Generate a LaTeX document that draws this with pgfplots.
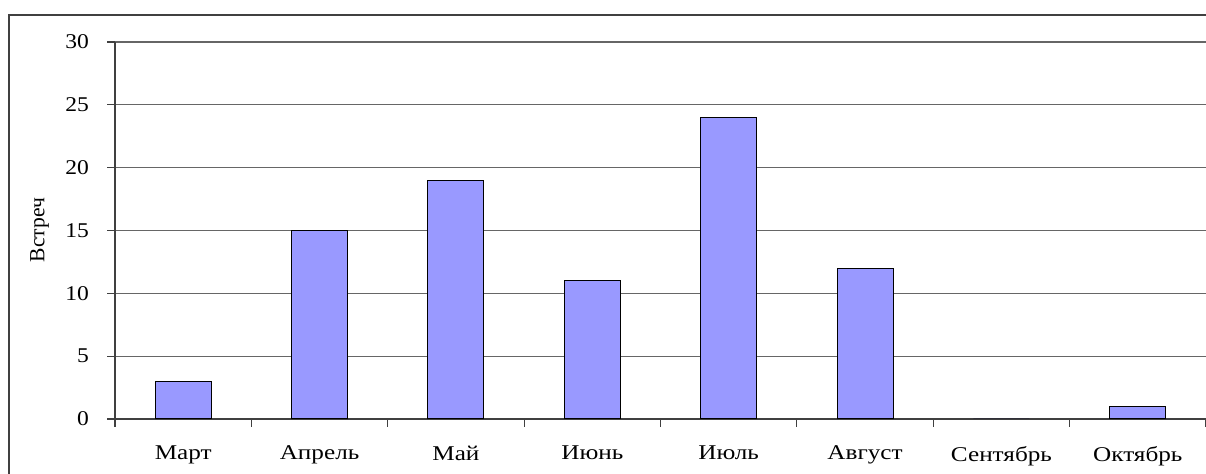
\documentclass[border=0pt]{standalone}
\usepackage{fontspec}
\setmainfont{Liberation Serif}
\usepackage{pgfplots}
\pgfplotsset{compat=1.18}
\definecolor{barblue}{HTML}{9999FF}
\begin{document}
\begin{tikzpicture}
\useasboundingbox (0pt,0pt) rectangle (603pt,237pt);
\draw[line width=1pt, black!75] (4.25pt,0pt) -- (4.25pt,229.5pt) -- (603pt,229.5pt);
\begin{axis}[
  at={(57.5pt,27.5pt)}, anchor=origin,
  scale only axis, width=545.5pt, height=188.5pt,
  xmin=0, xmax=8, ymin=0, ymax=30,
  ytick={0,5,...,30},
  xtick={0.5,1.5,...,7.5},
  xticklabels={Март, Апрель, Май, Июнь, Июль, Август, Сентябрь, Октябрь},
  major x tick style={draw=none},
  extra x ticks={0,1,...,8},
  extra x tick labels={},
  extra x tick style={grid=none, major x tick style={draw=black!75}},
  axis lines*=left,
  axis line style={black!75, line width=0.6pt},
  tick align=outside, major tick length=4pt,
  tick style={black!75, line width=0.6pt},
  ymajorgrids, grid style={black!60, line width=0.6pt},
  /pgf/number format/assume math mode=true,
  xticklabel style={font=\fontsize{10.5}{12}\selectfont, xscale=1.2, yshift=-6pt},
  yticklabel style={font=\fontsize{10.5}{12}\selectfont, xscale=1.12, xshift=-4.5pt},
  clip=false,
]
\addplot[ybar, bar width=0.41, fill=barblue, draw=black, line width=0.5pt]
  coordinates {(0.5,3) (1.5,15) (2.5,19) (3.5,11) (4.5,24) (5.5,12) (6.5,0) (7.5,1)};
\end{axis}
\node[rotate=90, font=\fontsize{10.8}{12}\selectfont] at (19.75pt,122pt) {Встреч};
\end{tikzpicture}
\end{document}
